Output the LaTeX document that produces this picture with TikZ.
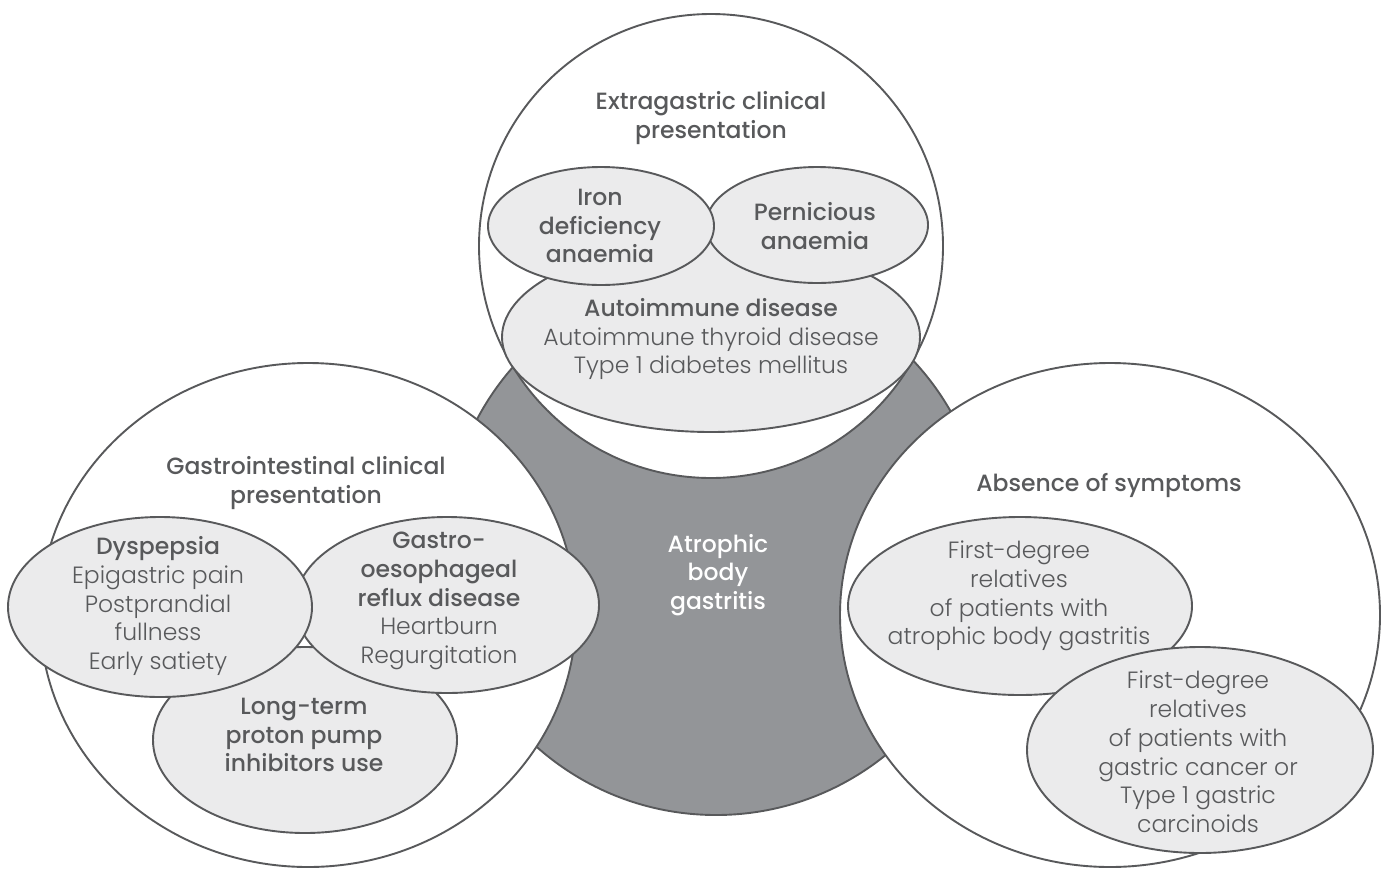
\documentclass[tikz,border=0pt]{standalone}
\usepackage{fontspec}
\setmainfont{Poppins}[UprightFont=* Light, BoldFont=* Medium]
\definecolor{txt}{HTML}{58595B}
\definecolor{lightfill}{HTML}{EBEBEC}
\definecolor{darkfill}{HTML}{939598}
\begin{document}
\begin{tikzpicture}[x=1pt,y=-1pt,
  outline/.style={draw=txt,line width=1.9pt},
  whitearea/.style={outline,fill=white},
  lightarea/.style={outline,fill=lightfill},
  darkarea/.style={outline,fill=darkfill},
  label/.style={align=center,text=txt,font=\fontsize{23.5}{28.8}\selectfont,inner sep=0pt},
  head/.style={label,font=\fontsize{23.5}{28.8}\selectfont\bfseries},
  centre/.style={label,text=white,font=\fontsize{23.5}{28.8}\selectfont\bfseries}]
\useasboundingbox (0,0) rectangle (1389,868);
% central circle
\draw[darkarea] (716,545) circle [radius=270pt];
% top group
\draw[whitearea] (711,246) circle [radius=232pt];
\draw[lightarea] (711,337) ellipse [x radius=209pt, y radius=95pt];
\draw[lightarea] (817,225) ellipse [x radius=111pt, y radius=58pt];
\draw[lightarea] (601,226) ellipse [x radius=113pt, y radius=59pt];
% left group
\draw[whitearea] (308,615) ellipse [x radius=268pt, y radius=252pt];
\draw[lightarea] (305,740) ellipse [x radius=152pt, y radius=93pt];
\draw[lightarea] (447,605) ellipse [x radius=152pt, y radius=88pt];
\draw[lightarea] (160,607) ellipse [x radius=152pt, y radius=90pt];
% right group
\draw[whitearea] (1110,615) ellipse [x radius=270pt, y radius=252pt];
\draw[lightarea] (1020,606) ellipse [x radius=172pt, y radius=89pt];
\draw[lightarea] (1200,750) ellipse [x radius=173pt, y radius=103pt];
% texts
\node[head] (extra) at (711,118) {Extragastric clinical\\presentation};
\node[head] (iron) at (600,226) {Iron\\deficiency\\anaemia};
\node[head] (pern) at (815,226) {Pernicious\\anaemia};
\node[label] (auto) at (711,339) {\textbf{Autoimmune disease}\\Autoimmune thyroid disease\\Type 1 diabetes mellitus};
\node[head] (gi) at (306,483) {Gastrointestinal clinical\\presentation};
\node[label] (dys) at (158,606) {\textbf{Dyspepsia}\\Epigastric pain\\Postprandial\\fullness\\Early satiety};
\node[label] (gerd) at (439,601) {\textbf{Gastro-}\\\textbf{oesophageal}\\\textbf{reflux disease}\\Heartburn\\Regurgitation};
\node[head] (ppi) at (304,735) {Long-term\\proton pump\\inhibitors use};
\node[centre] (abg) at (718,575) {Atrophic\\body\\gastritis};
\node[head] (abs) at (1109,485) {Absence of symptoms};
\node[label] (rel1) at (1019,596) {First-degree\\relatives\\of patients with\\atrophic body gastritis};
\node[label] (rel2) at (1198,752) {First-degree\\relatives\\of patients with\\gastric cancer or\\Type 1 gastric\\carcinoids};
\end{tikzpicture}
\end{document}
